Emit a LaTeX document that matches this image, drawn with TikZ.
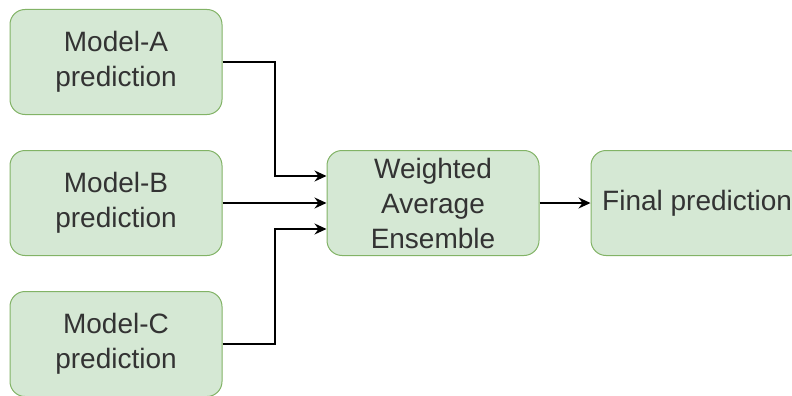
\documentclass[tikz,border=0pt]{standalone}
\usepackage{fontspec}
\setmainfont{Liberation Sans}
\usetikzlibrary{arrows.meta,calc}
\definecolor{boxfill}{HTML}{D5E8D4}
\definecolor{boxline}{HTML}{82B366}
\definecolor{txt}{HTML}{333333}
\begin{document}
\begin{tikzpicture}[x=1pt,y=-1pt,
  box/.style={draw=boxline,fill=boxfill,rounded corners=15pt,line width=1pt,
    minimum width=212pt,minimum height=105pt,align=center,text=txt,
    font=\fontsize{28}{35}\selectfont,inner sep=0pt},
  conn/.style={draw=black,line width=1.3pt,-{Stealth[length=12pt,width=11pt]}}]
\useasboundingbox (0,0) rectangle (792,396);
\node[box] (a) at (116,62) {Model-A\\prediction};
\node[box] (b) at (116,203) {Model-B\\prediction};
\node[box] (c) at (116,344) {Model-C\\prediction};
\node[box] (w) at (433,203) {Weighted\\Average\\Ensemble};
\node[box] (f) at (697,203) {};
\node[text=txt,font=\fontsize{28}{35}\selectfont,anchor=west,inner sep=0pt] (ft) at (602,203) {Final prediction};
\coordinate (w1) at ($(w.west)+(0,-27)$);
\coordinate (w3) at ($(w.west)+(0,26)$);
\coordinate (ka) at (275,0);
\draw[conn] (a.east) -| (ka |- w1) -- (w1);
\draw[conn] (b.east) -- (w.west);
\draw[conn] (c.east) -| (ka |- w3) -- (w3);
\draw[conn] (w.east) -- (f.west);
\end{tikzpicture}
\end{document}
